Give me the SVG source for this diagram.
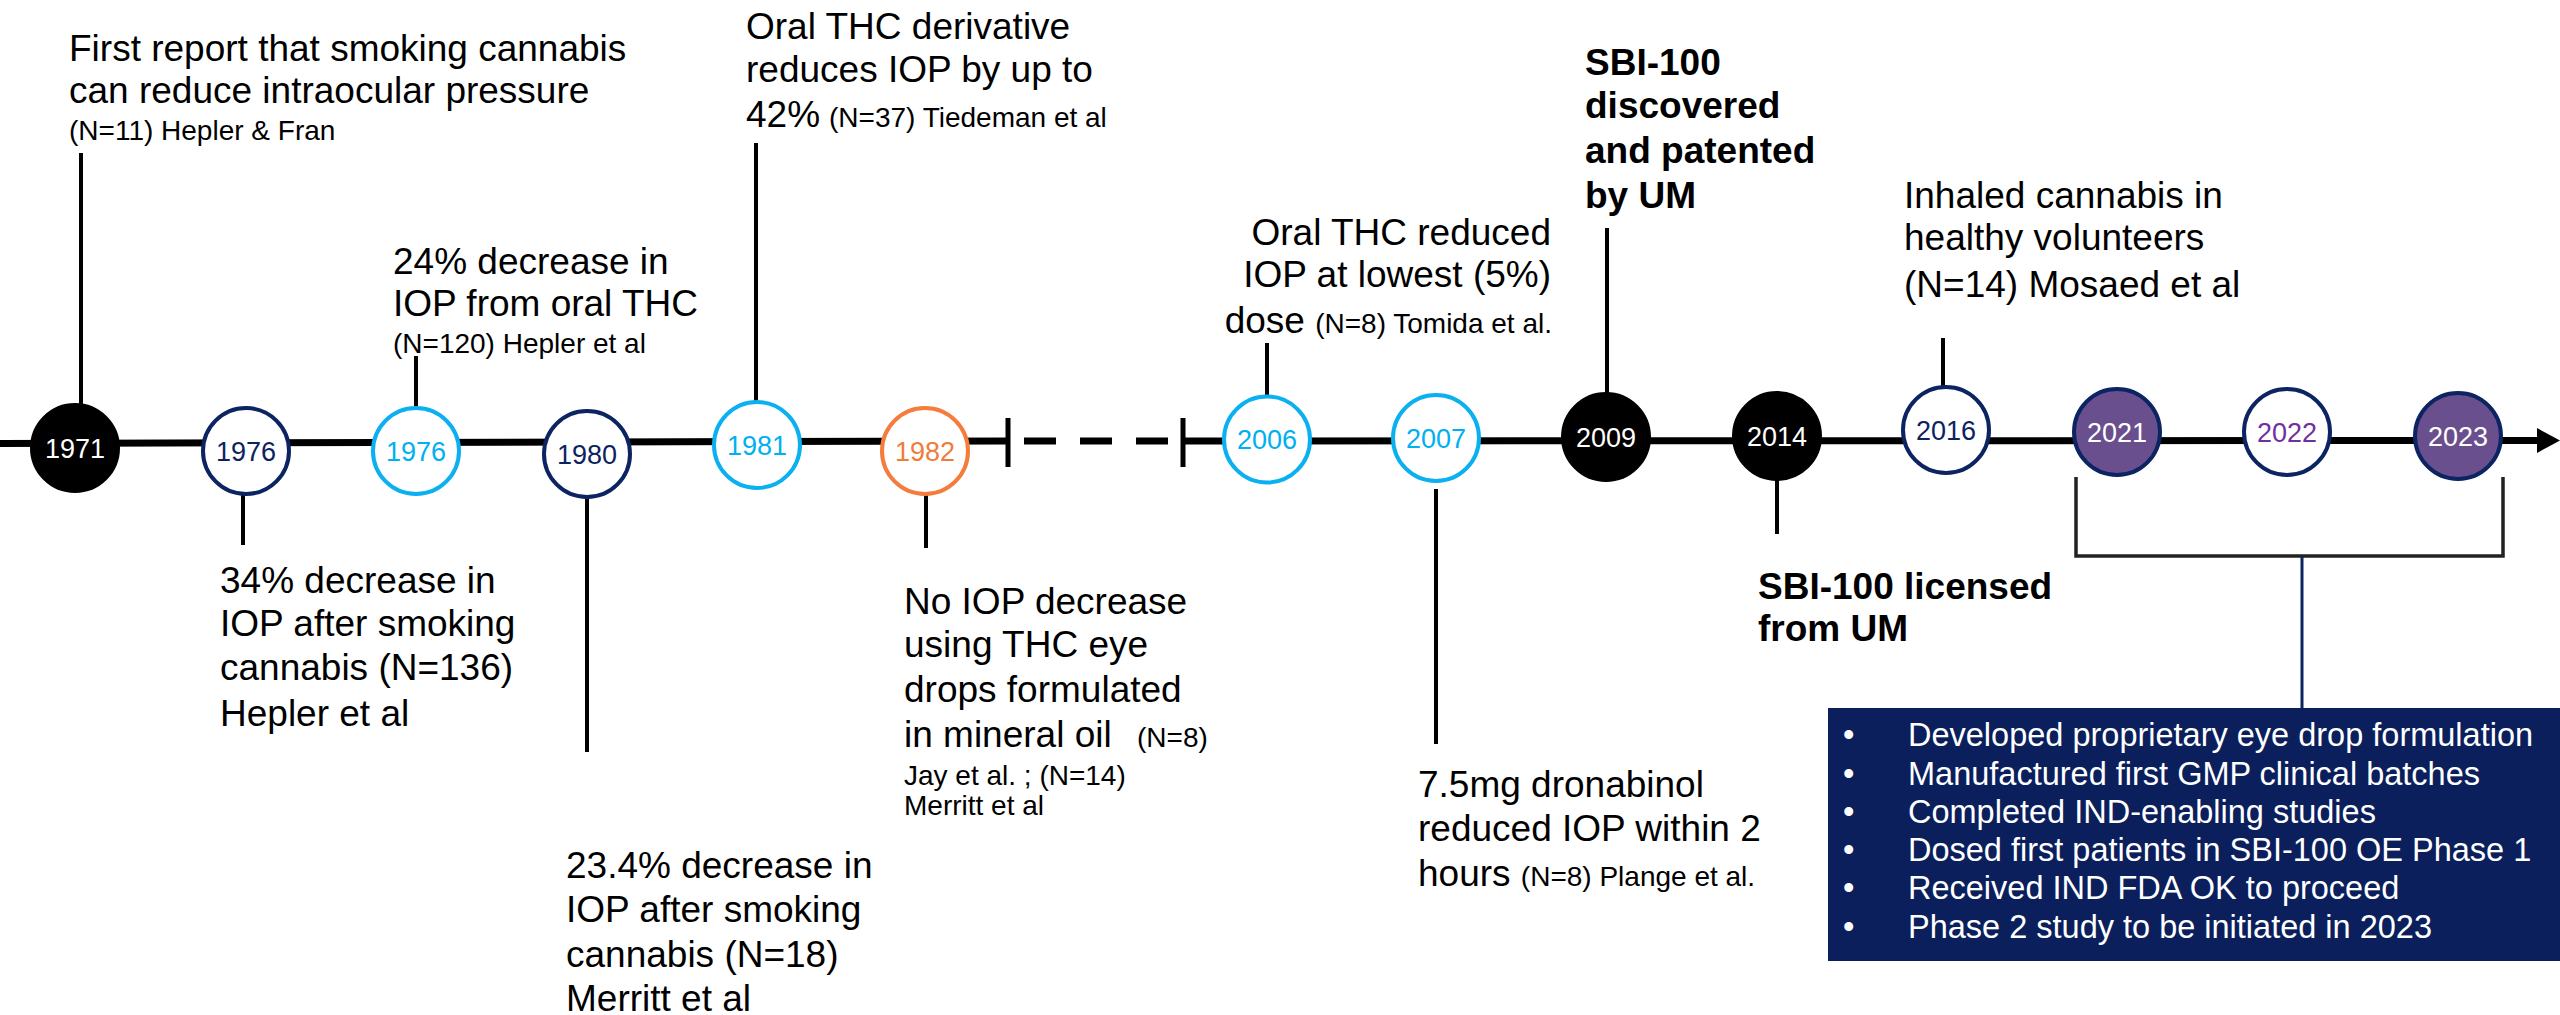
<svg xmlns="http://www.w3.org/2000/svg" width="2560" height="1015" viewBox="0 0 2560 1015">
<style>
text{font-family:"Liberation Sans",Arial,sans-serif;fill:#000}
.m{font-size:37px}
.s{font-size:28px}
.b{font-size:37px;font-weight:bold}
.yr{font-size:27px;text-anchor:middle}
.w{fill:#fff}
.nv{fill:#0d2360}
.lb{fill:#00b0f0}
.or{fill:#f07c3a}
.pu{fill:#7030a0}
.stem{stroke:#000;stroke-width:4;fill:none}
.cn{fill:#fff;stroke:#0c2461;stroke-width:4}
.cb{fill:#fff;stroke:#0ab0ef;stroke-width:4}
.co{fill:#fff;stroke:#f47c3c;stroke-width:4}
.ck{fill:#000;stroke:#000;stroke-width:4}
.cp{fill:#694f8e;stroke:#0c2461;stroke-width:4}
.bx{font-size:32.5px;fill:#fff}
</style>

<g id="connectors">
<line x1="0" y1="443.5" x2="1008" y2="441" stroke="#000" stroke-width="7"/>
<line x1="1008" y1="418" x2="1008" y2="467" stroke="#000" stroke-width="5"/>
<line x1="1024" y1="441" x2="1168" y2="441" stroke="#000" stroke-width="7" stroke-dasharray="32 24"/>
<line x1="1183" y1="418" x2="1183" y2="467" stroke="#000" stroke-width="5"/>
<line x1="1183" y1="441" x2="2538" y2="440.5" stroke="#000" stroke-width="7"/>
<path d="M2537 428 L2560 440.5 L2537 453 Z" fill="#000"/>
<line class="stem" x1="81" y1="153" x2="81" y2="405"/>
<line class="stem" x1="243" y1="494" x2="243" y2="545"/>
<line class="stem" x1="416" y1="356" x2="416" y2="408"/>
<line class="stem" x1="587" y1="497" x2="587" y2="752"/>
<line class="stem" x1="756" y1="143" x2="756" y2="401"/>
<line class="stem" x1="926" y1="494" x2="926" y2="548"/>
<line class="stem" x1="1267" y1="343" x2="1267" y2="397"/>
<line class="stem" x1="1436" y1="489" x2="1436" y2="744"/>
<line class="stem" x1="1607" y1="228" x2="1607" y2="394"/>
<line class="stem" x1="1777" y1="479" x2="1777" y2="534"/>
<line class="stem" x1="1943" y1="338" x2="1943" y2="388"/>
<path d="M2076 477 V556 H2503 V477" fill="none" stroke="#222" stroke-width="3.5"/>
<line x1="2302" y1="557" x2="2302" y2="708" stroke="#0c2461" stroke-width="3"/>
</g>

<g id="n1971"><circle class="ck" cx="75" cy="448" r="43"/><text class="yr w" x="75" y="457.5">1971</text></g>
<g id="n1976a"><circle class="cn" cx="246" cy="451" r="43"/><text class="yr nv" x="246" y="460.5">1976</text></g>
<g id="n1976b"><circle class="cb" cx="416" cy="451" r="43"/><text class="yr lb" x="416" y="460.5">1976</text></g>
<g id="n1980"><circle class="cn" cx="587" cy="454" r="43"/><text class="yr nv" x="587" y="463.5">1980</text></g>
<g id="n1981"><circle class="cb" cx="757" cy="445" r="43"/><text class="yr lb" x="757" y="454.5">1981</text></g>
<g id="n1982"><circle class="co" cx="925" cy="451" r="43"/><text class="yr or" x="925" y="460.5">1982</text></g>
<g id="n2006"><circle class="cb" cx="1267" cy="439.5" r="43"/><text class="yr lb" x="1267" y="449">2006</text></g>
<g id="n2007"><circle class="cb" cx="1436" cy="438" r="43"/><text class="yr lb" x="1436" y="447.5">2007</text></g>
<g id="n2009"><circle class="ck" cx="1606" cy="437" r="43"/><text class="yr w" x="1606" y="446.5">2009</text></g>
<g id="n2014"><circle class="ck" cx="1777" cy="436" r="43"/><text class="yr w" x="1777" y="445.5">2014</text></g>
<g id="n2016"><circle class="cn" cx="1946" cy="430" r="43"/><text class="yr nv" x="1946" y="439.5">2016</text></g>
<g id="n2021"><circle class="cp" cx="2117" cy="432" r="43"/><text class="yr w" x="2117" y="441.5">2021</text></g>
<g id="n2022"><circle class="cn" cx="2287" cy="432" r="43"/><text class="yr pu" x="2287" y="441.5">2022</text></g>
<g id="n2023"><circle class="cp" cx="2458" cy="436" r="43"/><text class="yr w" x="2458" y="445.5">2023</text></g>

<g id="t1971">
<text class="m" x="69" y="61">First report that smoking cannabis</text>
<text class="m" x="69" y="103">can reduce intraocular pressure</text>
<text class="s" x="69" y="140">(N=11) Hepler &amp; Fran</text>
</g>
<g id="t1976a">
<text class="m" x="220" y="593">34% decrease in</text>
<text class="m" x="220" y="636">IOP after smoking</text>
<text class="m" x="220" y="680">cannabis (N=136)</text>
<text class="m" x="220" y="726">Hepler et al</text>
</g>
<g id="t1976b">
<text class="m" x="393" y="274">24% decrease in</text>
<text class="m" x="393" y="316">IOP from oral THC</text>
<text class="s" x="393" y="353">(N=120) Hepler et al</text>
</g>
<g id="t1980">
<text class="m" x="566" y="878">23.4% decrease in</text>
<text class="m" x="566" y="922">IOP after smoking</text>
<text class="m" x="566" y="967">cannabis (N=18)</text>
<text class="m" x="566" y="1011">Merritt et al</text>
</g>
<g id="t1981">
<text class="m" x="746" y="39">Oral THC derivative</text>
<text class="m" x="746" y="82">reduces IOP by up to</text>
<text class="m" x="746" y="127">42% <tspan class="s" x="829">(N=37) Tiedeman et al</tspan></text>
</g>
<g id="t1982">
<text class="m" x="904" y="614">No IOP decrease</text>
<text class="m" x="904" y="657">using THC eye</text>
<text class="m" x="904" y="702">drops formulated</text>
<text class="m" x="904" y="747">in mineral oil<tspan class="s" x="1137">(N=8)</tspan></text>
<text class="s" x="904" y="785">Jay et al. ; (N=14)</text>
<text class="s" x="904" y="815">Merritt et al</text>
</g>
<g id="t2006">
<text class="m" x="1551" y="245" text-anchor="end">Oral THC reduced</text>
<text class="m" x="1551" y="287" text-anchor="end">IOP at lowest (5%)</text>
<text class="m" x="1552" y="333" text-anchor="end">dose <tspan class="s">(N=8) Tomida et al.</tspan></text>
</g>
<g id="t2007">
<text class="m" x="1418" y="797">7.5mg dronabinol</text>
<text class="m" x="1418" y="841">reduced IOP within 2</text>
<text class="m" x="1418" y="886">hours <tspan class="s">(N=8) Plange et al.</tspan></text>
</g>
<g id="t2009">
<text class="b" x="1585" y="75">SBI-100</text>
<text class="b" x="1585" y="118">discovered</text>
<text class="b" x="1585" y="163">and patented</text>
<text class="b" x="1585" y="208">by UM</text>
</g>
<g id="t2014">
<text class="b" x="1758" y="599">SBI-100 licensed</text>
<text class="b" x="1758" y="641">from UM</text>
</g>
<g id="t2016">
<text class="m" x="1904" y="208">Inhaled cannabis in</text>
<text class="m" x="1904" y="250">healthy volunteers</text>
<text class="m" x="1904" y="297">(N=14) Mosaed et al</text>
</g>
<g id="box">
<rect x="1828" y="708" width="732" height="253" fill="#0a1f5c"/>
<text class="bx" x="1843" y="746">•</text><text class="bx" x="1908" y="746">Developed proprietary eye drop formulation</text>
<text class="bx" x="1843" y="785">•</text><text class="bx" x="1908" y="785">Manufactured first GMP clinical batches</text>
<text class="bx" x="1843" y="823">•</text><text class="bx" x="1908" y="823">Completed IND-enabling studies</text>
<text class="bx" x="1843" y="861">•</text><text class="bx" x="1908" y="861">Dosed first patients in SBI-100 OE Phase 1</text>
<text class="bx" x="1843" y="899">•</text><text class="bx" x="1908" y="899">Received IND FDA OK to proceed</text>
<text class="bx" x="1843" y="938">•</text><text class="bx" x="1908" y="938">Phase 2 study to be initiated in 2023</text>
</g>
</svg>
